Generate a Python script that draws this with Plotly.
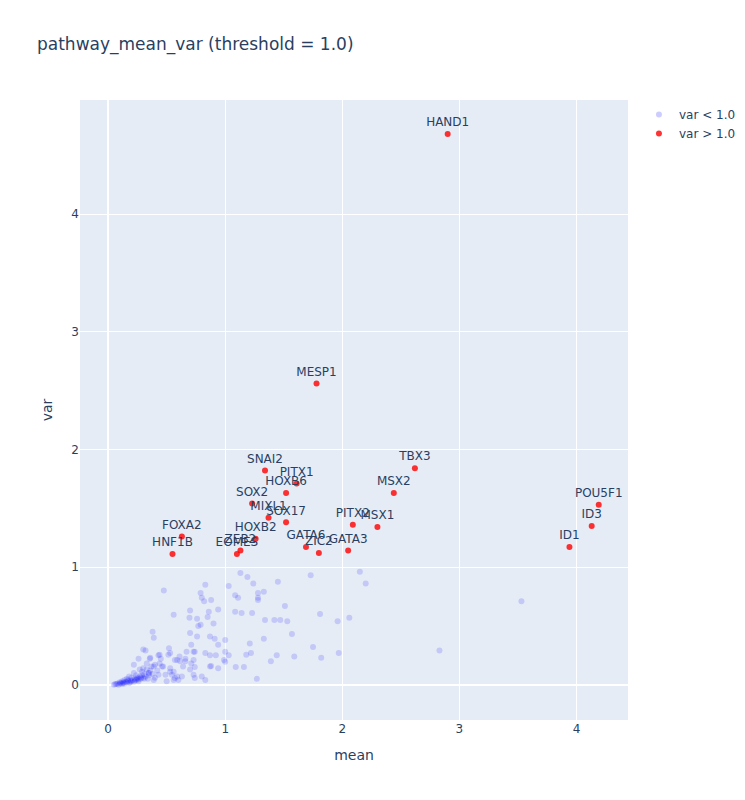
import plotly.graph_objects as go

# genes with var > 1.0 (labelled)
high_genes = ["HAND1", "MESP1", "SNAI2", "PITX1", "HOXB6", "SOX2", "MIXL1", "SOX17",
              "HOXB2", "ZEB2", "EOMES", "FOXA2", "HNF1B", "GATA6", "ZIC2", "GATA3",
              "PITX2", "MSX1", "MSX2", "TBX3", "POU5F1", "ID3", "ID1"]
high_mean = [2.90, 1.78, 1.34, 1.61, 1.52, 1.23, 1.37, 1.52,
             1.26, 1.13, 1.10, 0.63, 0.55, 1.69, 1.80, 2.05,
             2.09, 2.30, 2.44, 2.62, 4.19, 4.13, 3.94]
high_var = [4.68, 2.56, 1.82, 1.71, 1.63, 1.54, 1.42, 1.38,
            1.24, 1.14, 1.11, 1.26, 1.11, 1.17, 1.12, 1.14,
            1.36, 1.34, 1.63, 1.84, 1.53, 1.35, 1.17]

# genes with var < 1.0
low_mean = [2.83, 3.53, 2.15, 2.20, 2.06, 1.96, 1.97, 1.81, 1.75, 1.82, 1.73,
            1.24, 1.45, 1.28, 1.33, 1.28, 1.28, 1.51, 1.23, 1.34, 1.42, 1.47, 1.53,
            1.57, 1.33, 1.21, 1.22, 1.44, 1.59, 1.39, 1.27, 1.03, 1.13, 1.19, 1.085,
            1.11, 1.085, 1.14, 1.00, 1.00, 1.03, 1.18, 0.99, 1.00, 1.09, 1.16,
            0.83, 0.79, 0.80, 0.82, 0.88, 0.86, 0.94, 0.85, 0.90, 0.79, 0.87, 0.91,
            0.94, 0.83, 0.87, 0.92, 0.88, 0.94, 0.87, 0.80, 0.83,
            0.476, 0.56, 0.70, 0.695, 0.76, 0.77, 0.38, 0.39, 0.70, 0.76, 0.71, 0.52,
            0.32, 0.26, 0.22, 0.356, 0.43, 0.45, 0.53, 0.61, 0.67, 0.74, 0.59, 0.66,
            0.71, 0.74, 0.30, 0.36, 0.44, 0.515, 0.29, 0.345, 0.39, 0.46, 0.43, 0.49,
            0.53, 0.59, 0.56, 0.39, 0.50, 0.73, 0.57, 0.615, 0.66, 0.73, 0.33, 0.37,
            0.40, 0.44, 0.47, 0.53, 0.56, 0.545, 0.64, 0.70, 0.73, 0.74, 0.57, 0.60,
            0.63,
            0.05, 0.07, 0.08, 0.09, 0.10, 0.11, 0.12, 0.13, 0.14, 0.15, 0.16, 0.17,
            0.18, 0.19, 0.20, 0.21, 0.22, 0.23, 0.24, 0.25, 0.26, 0.27, 0.28, 0.29,
            0.30, 0.31, 0.32, 0.34, 0.35, 0.36, 0.38, 0.40, 0.42, 0.12, 0.16, 0.20,
            0.24, 0.18, 0.22, 0.27, 0.30, 0.33, 0.26, 0.14,
            0.06, 0.10, 0.13, 0.17, 0.19, 0.23, 0.25, 0.28, 0.31, 0.35]
low_var = [0.29, 0.71, 0.96, 0.86, 0.57, 0.54, 0.27, 0.60, 0.32, 0.23, 0.93,
           0.86, 0.875, 0.78, 0.79, 0.74, 0.72, 0.67, 0.61, 0.55, 0.55, 0.55, 0.54,
           0.43, 0.39, 0.35, 0.27, 0.25, 0.24, 0.20, 0.05, 0.84, 0.95, 0.915, 0.76,
           0.74, 0.62, 0.61, 0.38, 0.28, 0.25, 0.255, 0.21, 0.195, 0.15, 0.15,
           0.85, 0.78, 0.74, 0.71, 0.72, 0.62, 0.64, 0.575, 0.52, 0.51, 0.41, 0.39,
           0.34, 0.27, 0.25, 0.25, 0.16, 0.14, 0.155, 0.07, 0.04,
           0.80, 0.595, 0.63, 0.57, 0.56, 0.50, 0.45, 0.40, 0.44, 0.41, 0.34, 0.31,
           0.29, 0.22, 0.17, 0.22, 0.25, 0.22, 0.27, 0.24, 0.28, 0.28, 0.21, 0.20,
           0.18, 0.15, 0.30, 0.23, 0.255, 0.255, 0.11, 0.10, 0.155, 0.155, 0.085, 0.085,
           0.11, 0.07, 0.04, 0.04, 0.03, 0.28, 0.21, 0.20, 0.22, 0.21, 0.18, 0.155,
           0.17, 0.18, 0.155, 0.14, 0.11, 0.085, 0.155, 0.13, 0.085, 0.057, 0.057, 0.04,
           0.07,
           0.00, 0.005, 0.01, 0.00, 0.01, 0.015, 0.005, 0.02, 0.01, 0.025, 0.02, 0.03,
           0.015, 0.035, 0.03, 0.04, 0.025, 0.05, 0.04, 0.06, 0.045, 0.07, 0.05, 0.08,
           0.06, 0.09, 0.07, 0.05, 0.08, 0.12, 0.09, 0.06, 0.12, 0.03, 0.05, 0.06,
           0.08, 0.07, 0.10, 0.13, 0.14, 0.13, 0.03, 0.04,
           0.005, 0.02, 0.015, 0.04, 0.02, 0.035, 0.05, 0.06, 0.05, 0.10]

threshold = 1.0

fig = go.Figure()
fig.add_trace(go.Scatter(x=low_mean, y=low_var, mode="markers",
                         name=f"var < {threshold}",
                         marker=dict(color="blue", size=6, opacity=0.15)))
fig.add_trace(go.Scatter(x=high_mean, y=high_var, mode="markers+text",
                         name=f"var > {threshold}", text=high_genes,
                         textposition="top center",
                         marker=dict(color="red", size=6, opacity=0.8)))

# page body adds 8px, so margins are trimmed to land where the reference is
fig.update_layout(
    title=dict(text=f"pathway_mean_var (threshold = {threshold})",
               x=29 / 750, xanchor="left", y=0.955, yanchor="middle"),
    font=dict(family="Verdana, DejaVu Sans, sans-serif"),
    width=750, height=800,
    margin=dict(l=72, t=92, b=88, r=130),
    xaxis=dict(title="mean", range=[-0.24, 4.44]),
    yaxis=dict(title="var", range=[-0.30, 4.97]),
)

fig.write_html("out.html")
